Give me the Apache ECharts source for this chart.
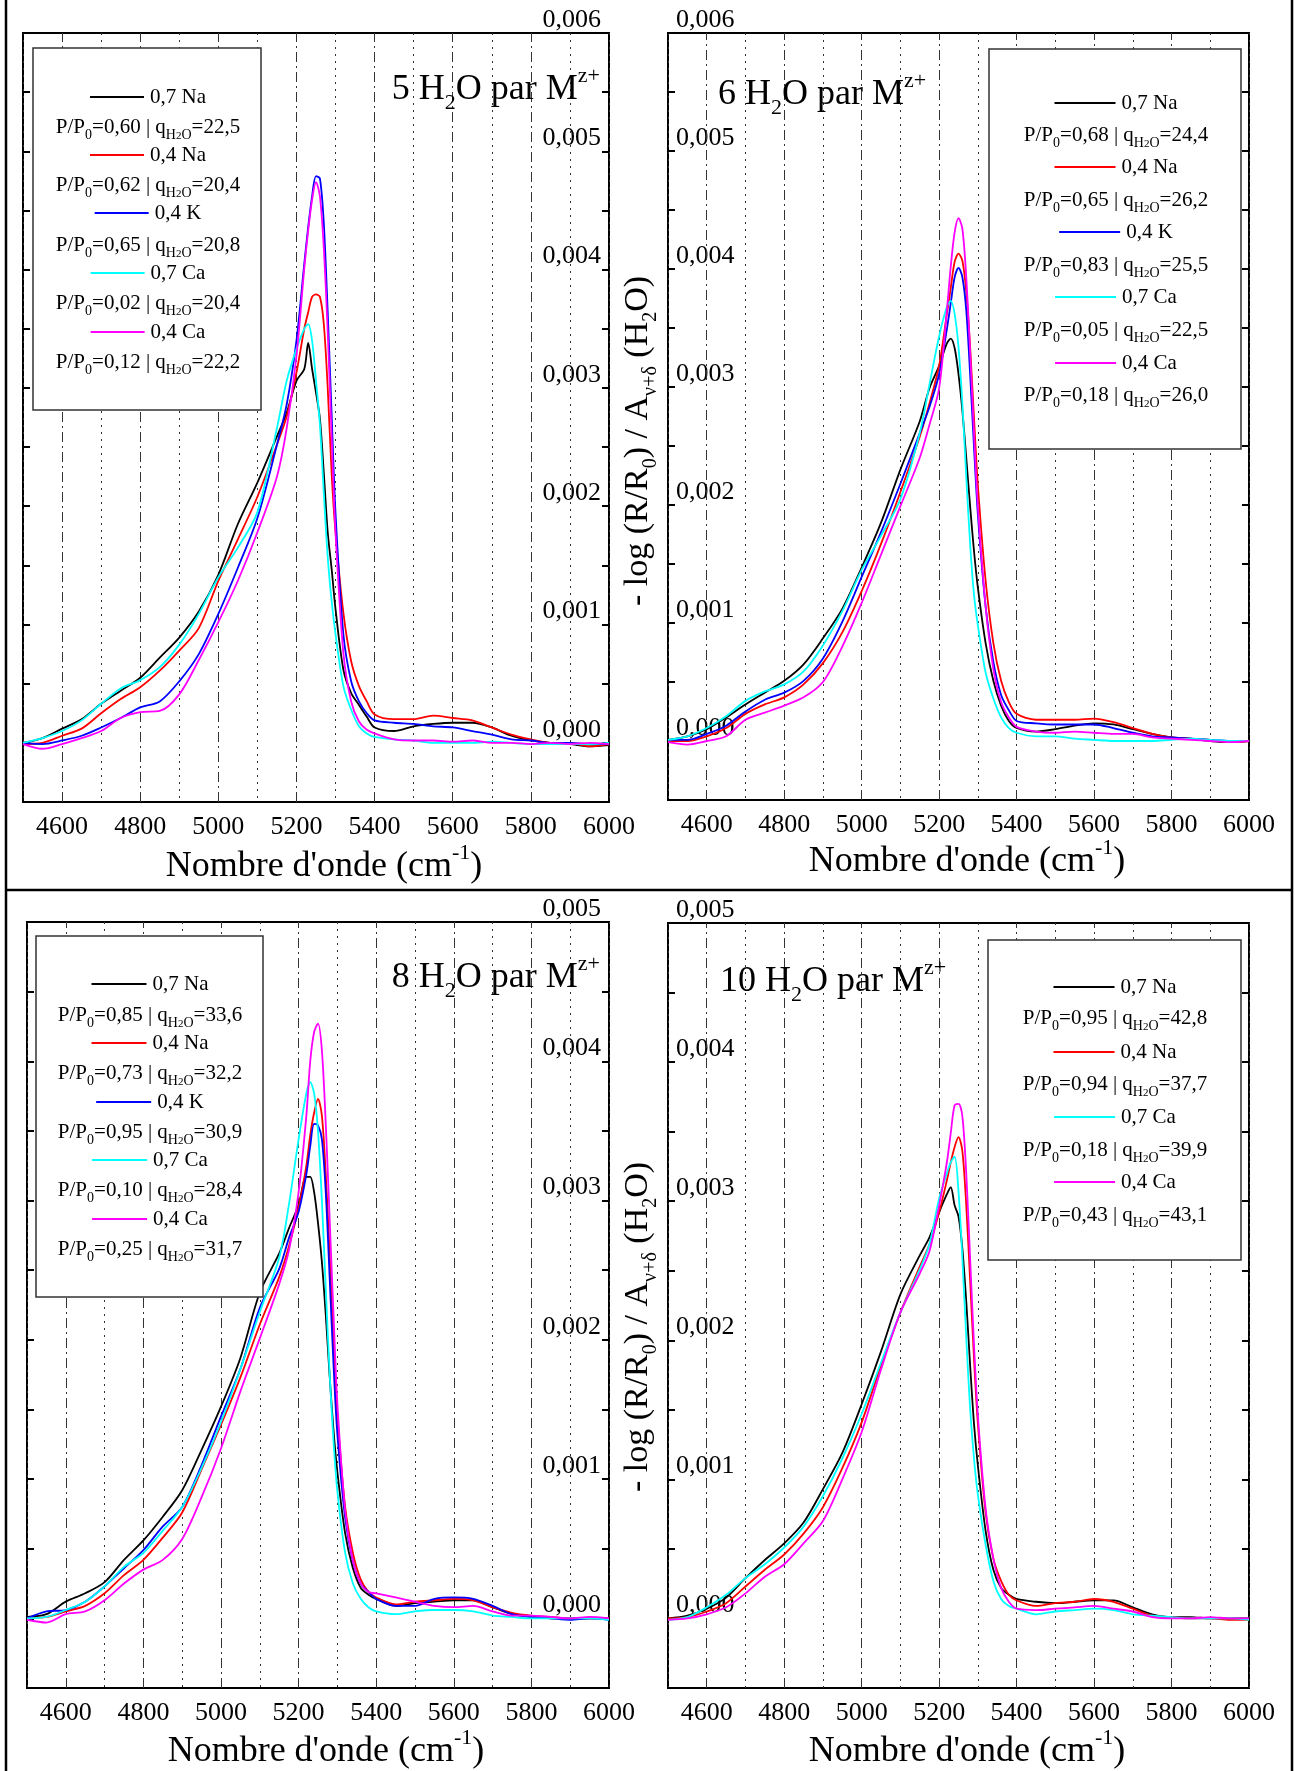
<!DOCTYPE html>
<html><head><meta charset="utf-8">
<script src="https://cdn.jsdelivr.net/npm/echarts@6/dist/echarts.min.js"></script>
<style>html,body{margin:0;padding:0;background:#fff;}#c{width:1295px;height:1771px;}</style>
</head><body><div id="c"></div>
<script>
// ---------- DATA (absorbance values in units of 1e-3) ----------
const SCALE = 1e-3;
const WAVENUMBERS = [4500,4550,4600,4650,4700,4750,4800,4850,4900,4950,5000,5050,5100,5150,5175,5200,5220,5230,5240,5250,5260,5270,5280,5290,5300,5320,5340,5360,5380,5400,5450,5500,5550,5600,5650,5700,5750,5800,5850,5900,5950,6000];
const X_TICK_LABELS = [4600,4800,5000,5200,5400,5600,5800,6000];
const X_MAJOR_GRID = [4600,4800,5000,5200,5400,5600,5800];

// 5 H2O par M
const h5_07Na = [0.00,0.04,0.12,0.20,0.33,0.44,0.55,0.72,0.89,1.11,1.42,1.85,2.20,2.59,2.79,3.06,3.16,3.38,3.16,2.96,2.74,2.28,1.78,1.47,1.13,0.62,0.42,0.32,0.22,0.13,0.10,0.14,0.16,0.17,0.17,0.13,0.06,0.02,0.00,-0.01,-0.03,-0.02];
const h5_04Na = [-0.01,0.00,0.06,0.12,0.25,0.37,0.47,0.61,0.78,0.97,1.37,1.72,2.08,2.52,2.76,3.13,3.50,3.64,3.77,3.79,3.77,3.54,3.00,2.28,1.78,1.10,0.69,0.48,0.35,0.24,0.20,0.20,0.23,0.21,0.19,0.13,0.07,0.03,0.00,0.00,-0.03,-0.01];
const h5_04K  = [0.00,-0.01,0.02,0.06,0.13,0.21,0.30,0.35,0.52,0.75,1.09,1.48,1.90,2.52,2.86,3.40,4.05,4.36,4.62,4.79,4.77,4.39,3.64,2.78,1.94,0.92,0.52,0.35,0.25,0.19,0.17,0.16,0.14,0.13,0.10,0.07,0.03,0.02,0.00,0.00,-0.01,-0.01];
const h5_07Ca = [0.00,0.04,0.10,0.19,0.33,0.46,0.53,0.64,0.83,1.09,1.40,1.65,1.95,2.66,3.06,3.33,3.50,3.54,3.40,3.06,2.69,2.11,1.57,1.20,0.92,0.48,0.28,0.14,0.08,0.05,0.03,0.02,0.00,0.00,0.00,0.01,0.00,-0.01,-0.01,-0.01,-0.01,0.00];
const h5_04Ca = [-0.01,-0.05,-0.01,0.04,0.10,0.21,0.26,0.27,0.41,0.70,1.02,1.37,1.78,2.25,2.66,3.27,4.01,4.33,4.59,4.74,4.62,4.18,3.47,2.59,1.78,0.76,0.35,0.18,0.11,0.08,0.03,0.02,0.02,0.01,0.02,0.00,0.00,-0.01,0.00,-0.01,0.00,-0.01];
const h5_P0 = ['0,60','0,62','0,65','0,02','0,12'];
const h5_q  = ['22,5','20,4','20,8','20,4','22,2'];

// 6 H2O par M
const h6_07Na = [0.01,0.04,0.10,0.20,0.31,0.41,0.51,0.65,0.87,1.12,1.47,1.85,2.30,2.71,2.99,3.18,3.37,3.41,3.33,3.11,2.80,2.40,1.99,1.61,1.30,0.83,0.51,0.30,0.17,0.11,0.08,0.10,0.13,0.15,0.14,0.10,0.06,0.03,0.02,0.00,-0.01,0.00];
const h6_04Na = [0.00,0.00,0.04,0.11,0.23,0.31,0.37,0.48,0.66,0.92,1.27,1.67,2.11,2.58,2.86,3.18,3.62,3.84,4.06,4.13,4.07,3.81,3.34,2.74,2.17,1.36,0.83,0.51,0.33,0.23,0.18,0.18,0.18,0.19,0.16,0.11,0.06,0.03,0.02,0.01,-0.01,0.00];
const h6_04K  = [0.01,0.01,0.06,0.13,0.25,0.35,0.41,0.51,0.70,1.01,1.39,1.77,2.18,2.61,2.83,3.11,3.49,3.71,3.93,4.01,3.93,3.65,3.11,2.49,1.92,1.14,0.67,0.39,0.26,0.17,0.15,0.14,0.14,0.14,0.11,0.07,0.04,0.03,0.02,0.01,0.00,0.00];
const h6_07Ca = [0.01,0.04,0.11,0.21,0.34,0.42,0.48,0.59,0.81,1.10,1.45,1.74,2.05,2.61,3.02,3.43,3.68,3.73,3.62,3.34,2.86,2.24,1.67,1.24,0.98,0.58,0.36,0.20,0.11,0.07,0.04,0.04,0.02,0.01,0.00,0.00,0.00,0.01,0.02,0.01,0.00,0.00];
const h6_04Ca = [-0.01,-0.03,0.00,0.04,0.18,0.24,0.30,0.37,0.50,0.80,1.17,1.58,1.99,2.40,2.68,2.99,3.65,4.02,4.31,4.43,4.34,3.93,3.30,2.61,1.99,1.14,0.61,0.33,0.20,0.12,0.08,0.07,0.08,0.07,0.06,0.06,0.03,0.02,0.01,0.00,-0.01,0.00];
const h6_P0 = ['0,68','0,65','0,83','0,05','0,18'];
const h6_q  = ['24,4','26,2','25,5','22,5','26,0'];

// 8 H2O par M
const h8_07Na = [0.01,0.03,0.12,0.18,0.26,0.42,0.56,0.73,0.92,1.21,1.52,1.87,2.34,2.62,2.80,2.97,3.17,3.17,3.06,2.84,2.56,2.18,1.74,1.35,1.05,0.61,0.36,0.22,0.17,0.14,0.09,0.11,0.12,0.13,0.13,0.08,0.03,0.01,0.00,0.00,0.00,0.00];
const h8_04Na = [0.00,0.01,0.05,0.09,0.18,0.31,0.42,0.58,0.76,1.07,1.39,1.73,2.11,2.45,2.67,2.95,3.25,3.47,3.63,3.73,3.61,3.19,2.62,1.98,1.46,0.80,0.47,0.28,0.19,0.15,0.10,0.12,0.13,0.14,0.13,0.08,0.04,0.02,0.01,0.00,0.00,0.00];
const h8_04K  = [0.00,0.05,0.06,0.12,0.23,0.36,0.49,0.66,0.80,1.10,1.45,1.79,2.23,2.51,2.73,2.92,3.19,3.39,3.55,3.54,3.44,3.06,2.45,1.82,1.32,0.72,0.41,0.25,0.19,0.14,0.09,0.09,0.14,0.15,0.14,0.09,0.03,0.01,0.00,-0.01,0.00,-0.01];
const h8_07Ca = [0.00,0.01,0.06,0.12,0.23,0.37,0.47,0.63,0.80,1.08,1.41,1.79,2.20,2.59,2.97,3.44,3.77,3.85,3.77,3.50,3.00,2.37,1.76,1.27,0.91,0.47,0.25,0.14,0.08,0.05,0.03,0.05,0.06,0.06,0.05,0.02,0.01,0.00,0.00,0.00,0.00,-0.01];
const h8_04Ca = [-0.01,-0.03,0.03,0.05,0.13,0.25,0.35,0.42,0.57,0.87,1.22,1.63,2.01,2.40,2.64,3.06,3.61,4.00,4.21,4.27,4.08,3.55,2.87,2.18,1.54,0.77,0.41,0.25,0.19,0.18,0.15,0.12,0.09,0.08,0.09,0.05,0.02,0.02,0.01,0.00,0.01,0.00];
const h8_P0 = ['0,85','0,73','0,95','0,10','0,25'];
const h8_q  = ['33,6','32,2','30,9','28,4','31,7'];

// 10 H2O par M
const h10_07Na = [0.00,0.02,0.07,0.15,0.29,0.42,0.54,0.69,0.93,1.19,1.54,1.92,2.33,2.61,2.74,2.92,3.05,3.10,2.97,2.89,2.66,2.28,1.82,1.40,1.10,0.63,0.35,0.22,0.17,0.14,0.12,0.11,0.12,0.13,0.13,0.08,0.03,0.01,0.01,0.00,0.00,0.00];
const h10_04Na = [0.00,0.01,0.05,0.11,0.23,0.35,0.46,0.61,0.80,1.08,1.41,1.82,2.20,2.53,2.69,2.92,3.15,3.28,3.39,3.46,3.36,2.97,2.43,1.87,1.40,0.76,0.43,0.27,0.17,0.13,0.09,0.11,0.12,0.14,0.12,0.07,0.02,0.01,0.00,0.00,-0.01,-0.01];
const h10_07Ca = [-0.01,0.01,0.08,0.17,0.29,0.39,0.51,0.66,0.88,1.15,1.47,1.84,2.20,2.51,2.69,3.02,3.20,3.28,3.32,3.07,2.59,2.02,1.51,1.15,0.89,0.53,0.27,0.14,0.09,0.07,0.03,0.05,0.06,0.07,0.06,0.03,0.02,0.01,0.00,0.00,0.00,-0.01];
const h10_04Ca = [-0.01,0.00,0.03,0.08,0.18,0.30,0.39,0.54,0.70,1.00,1.34,1.79,2.20,2.48,2.64,2.97,3.28,3.49,3.69,3.70,3.61,3.20,2.59,1.97,1.46,0.79,0.43,0.22,0.12,0.07,0.06,0.07,0.08,0.09,0.07,0.05,0.01,0.00,0.00,0.01,0.00,0.00];
const h10_P0 = ['0,95','0,94','0,18','0,43'];
const h10_q  = ['42,8','37,7','39,9','43,1'];

const NAMES_5 = ['0,7 Na','0,4 Na','0,4 K','0,7 Ca','0,4 Ca'];
const NAMES_4 = ['0,7 Na','0,4 Na','0,7 Ca','0,4 Ca'];
const COLORS = {'0,7 Na':'#000000','0,4 Na':'#ff0000','0,4 K':'#0000ff','0,7 Ca':'#00ffff','0,4 Ca':'#ff00ff'};

// ---------- LAYOUT ----------
const FAMILY = 'Liberation Serif';
const FONT = '"Liberation Serif","Times New Roman",serif';
const panels = [
  {n:'5', grid:[23,33,586,769], ymax:0.006, labelSide:'right', names:NAMES_5,
   values:[h5_07Na,h5_04Na,h5_04K,h5_07Ca,h5_04Ca], p0:h5_P0, q:h5_q,
   box:[33,48,228,362], rows:[97,127,155,185,213,245,273,303,332,362], cx:148, L:54,
   title:[600,90,'right'], xname:[324,867]},
  {n:'6', grid:[668,33,581,767], ymax:0.006, labelSide:'left', names:NAMES_5,
   values:[h6_07Na,h6_04Na,h6_04K,h6_07Ca,h6_04Ca], p0:h6_P0, q:h6_q,
   box:[989,49,252,400], rows:[103,135,167,200,232,265,297,330,363,395], cx:1116, L:61,
   title:[718,95,'left'], xname:[967,862]},
  {n:'8', grid:[27,922,582,766], ymax:0.005, labelSide:'right', names:NAMES_5,
   values:[h8_07Na,h8_04Na,h8_04K,h8_07Ca,h8_04Ca], p0:h8_P0, q:h8_q,
   box:[36,936,227,361], rows:[984,1015,1043,1073,1102,1132,1160,1190,1219,1249], cx:150, L:55,
   title:[600,978,'right'], xname:[326,1752]},
  {n:'10', grid:[668,923,581,765], ymax:0.005, labelSide:'left', names:NAMES_4,
   values:[h10_07Na,h10_04Na,h10_07Ca,h10_04Ca], p0:h10_P0, q:h10_q,
   box:[988,940,253,320], rows:[987,1018,1052,1084,1117,1150,1182,1215], cx:1115, L:61,
   title:[720,982,'left'], xname:[967,1752]}
];

const mctx = document.createElement('canvas').getContext('2d');
function tw(t, size){ mctx.font = size + 'px ' + FONT; return mctx.measureText(t).width; }

function yFmt(v){
  const k = Math.round(v * 10000);
  if (k % 10 !== 0) return '';
  return '{t|' + (k / 10000).toFixed(3).replace('.', ',') + '}';
}
function xFmt(v){
  return X_TICK_LABELS.indexOf(v) >= 0 ? '{t|' + v + '}' : '';
}
const tickRich = {t:{fontFamily:FAMILY, fontSize:26, color:'#000'}};

const grids = [], xAxes = [], yAxes = [], series = [], graphics = [];

const richLegend = {
  n:{fontSize:21, fontFamily:FAMILY, lineHeight:30, fill:'#000', color:'#000'},
  s:{fontSize:14, fontFamily:FAMILY, lineHeight:14, verticalAlign:'bottom', fill:'#000', color:'#000'},
  ss:{fontSize:11, fontFamily:FAMILY, lineHeight:9, verticalAlign:'bottom', fill:'#000', color:'#000'}
};
function richOf(size){
  return {
    m:{fontSize:size, fontFamily:FAMILY, lineHeight:Math.round(size*1.35), fill:'#000', color:'#000'},
    s:{fontSize:Math.round(size*0.6), fontFamily:FAMILY, lineHeight:Math.round(size*0.53), verticalAlign:'bottom', fill:'#000', color:'#000'},
    p:{fontSize:Math.round(size*0.6), fontFamily:FAMILY, lineHeight:Math.round(size*0.42), verticalAlign:'top', fill:'#000', color:'#000'}
  };
}
const richTitle = richOf(36);
const richAxisName = richOf(36);
const richYName = richOf(34);

function txt(x, y, text, rich, align, extra){
  return Object.assign({type:'text', x:x, y:y, z:100, silent:true,
    style:{text:text, rich:rich, font:'21px ' + FONT, fill:'#000',
      align:align, verticalAlign:'middle', textAlign:align, textVerticalAlign:'middle'}}, extra || {});
}

panels.forEach((p, gi) => {
  grids.push({left:p.grid[0], top:p.grid[1], width:p.grid[2], height:p.grid[3],
    show:true, borderColor:'#000', borderWidth:2, backgroundColor:'transparent', containLabel:false});
  xAxes.push({gridIndex:gi, type:'value', min:4500, max:6000, interval:100, position:'bottom',
    axisLine:{show:false}, axisTick:{show:false}, splitLine:{show:false},
    axisLabel:{formatter:xFmt, rich:tickRich, fontFamily:FAMILY, fontSize:26, color:'#000',
      margin:12, hideOverlap:false}});
  xAxes.push({gridIndex:gi, type:'value', min:4500, max:6000, interval:200, position:'top',
    axisLine:{show:false}, axisTick:{show:false}, axisLabel:{show:false},
    splitLine:{show:true, lineStyle:{type:[2,5], color:'#333', width:1}}});
  ['left','right'].forEach(side => {
    yAxes.push({gridIndex:gi, type:'value', min:-0.0005, max:p.ymax, interval:0.0005, position:side,
      axisLine:{show:false}, splitLine:{show:false},
      axisTick:{show:true, inside:true, length:7, lineStyle:{color:'#000', width:2}},
      axisLabel: side === p.labelSide ?
        {show:true, inside:true, verticalAlign:'bottom', margin:8, fontFamily:FAMILY, fontSize:26,
         color:'#000', formatter:yFmt, rich:tickRich, showMinLabel:true, showMaxLabel:true} : {show:false}});
  });
  p.names.forEach((name, si) => {
    const s = {type:'line', name:name + ' (' + p.n + ')', xAxisIndex:2*gi, yAxisIndex:2*gi,
      data:WAVENUMBERS.map((x, i) => [x, p.values[si][i] * SCALE]),
      showSymbol:false, symbol:'none', smooth:0.3, clip:true, z:2,
      lineStyle:{color:COLORS[name], width:1.8}, itemStyle:{color:COLORS[name]}};
    if (si === 0) {
      s.markLine = {silent:true, z:1, symbol:['none','none'], label:{show:false}, animation:false,
        lineStyle:{type:[10,4,2,4], color:'#333', width:1},
        data:X_MAJOR_GRID.map(v => ({xAxis:v}))};
    }
    series.push(s);
  });

  // legend box
  graphics.push({type:'rect', z:90, silent:true,
    shape:{x:p.box[0], y:p.box[1], width:p.box[2], height:p.box[3]},
    style:{fill:'#fff', stroke:'#333', lineWidth:1.5}});
  p.names.forEach((name, si) => {
    const yL = p.rows[2*si], yP = p.rows[2*si + 1];
    const w = tw(name, 21), gap = 6;
    const x0 = p.cx - (p.L + gap + w) / 2;
    graphics.push({type:'line', z:100, silent:true,
      shape:{x1:x0, y1:yL, x2:x0 + p.L, y2:yL}, style:{stroke:COLORS[name], lineWidth:2}});
    graphics.push(txt(x0 + p.L + gap, yL, '{n|' + name + '}', richLegend, 'left'));
    graphics.push(txt(p.cx, yP,
      '{n|P/P}{s|0}{n|=' + p.p0[si] + ' | q}{s|H}{ss|2}{s|O}{n|=' + p.q[si] + '}', richLegend, 'center'));
  });
  // panel title
  graphics.push(txt(p.title[0], p.title[1], '{m|' + p.n + ' H}{s|2}{m|O par M}{p|z+}', richTitle, p.title[2]));
  // x axis name
  graphics.push(txt(p.xname[0], p.xname[1], "{m|Nombre d'onde (cm}{p|-1}{m|)}", richAxisName, 'center'));
});

// y axis titles (one per row)
[[638,441],[638,1327]].forEach(pos => {
  graphics.push(txt(pos[0], pos[1], '{m|- log (R/R}{s|0}{m|) / A}{s|ν+δ}{m| (H}{s|2}{m|O)}', richYName, 'center',
    {rotation:Math.PI / 2}));
});

// outer table frame
[[6,0,6,1771],[1292,0,1292,1771],[6,890,1292,890]].forEach(l => {
  graphics.push({type:'line', z:100, silent:true, shape:{x1:l[0], y1:l[1], x2:l[2], y2:l[3]},
    style:{stroke:'#000', lineWidth:2.5}});
});

const chart = echarts.init(document.getElementById('c'), null, {renderer:'canvas'});
chart.setOption({
  animation:false,
  backgroundColor:'#ffffff',
  textStyle:{fontFamily:FAMILY},
  grid:grids, xAxis:xAxes, yAxis:yAxes, series:series, graphic:graphics
});
</script>
</body></html>
